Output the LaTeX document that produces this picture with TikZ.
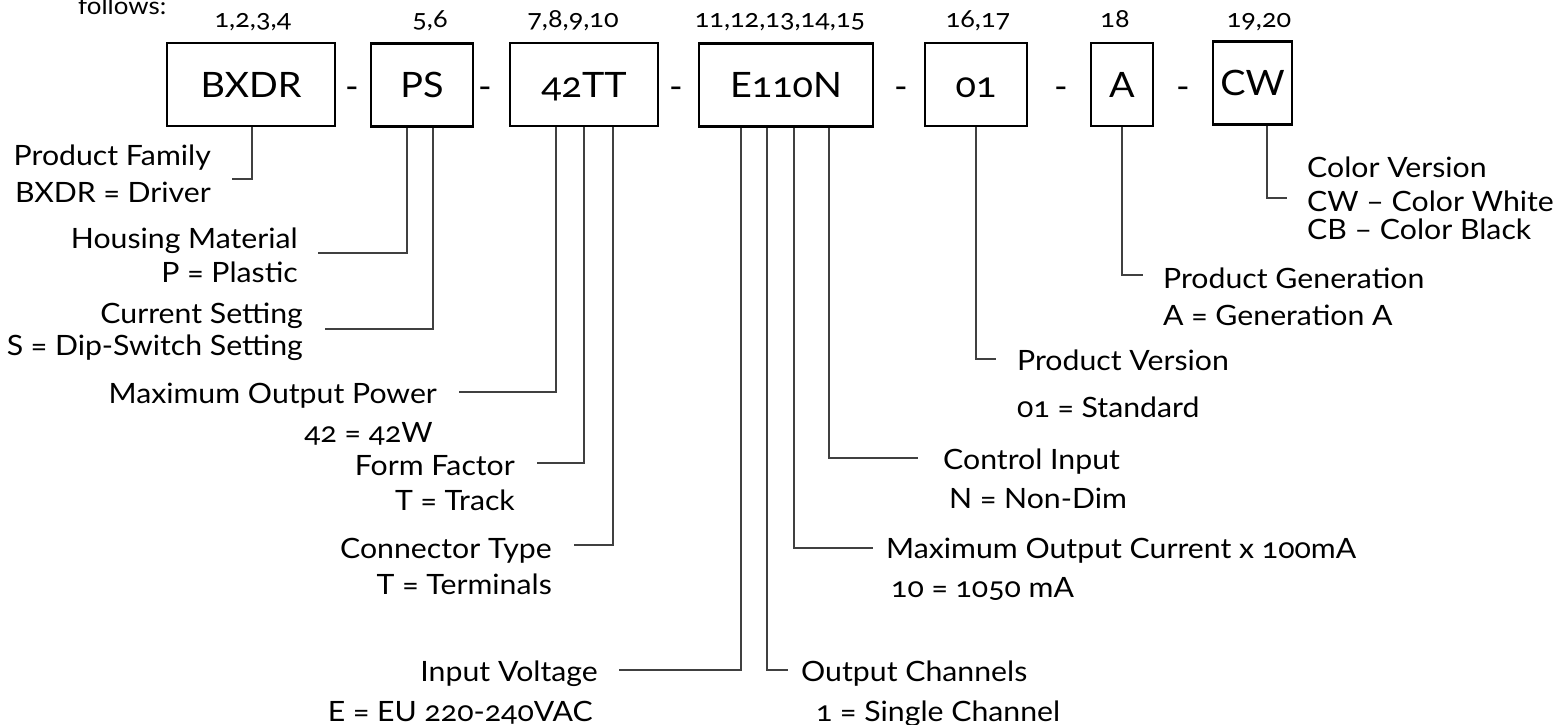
\documentclass[tikz,border=0pt]{standalone}
\usepackage{fontspec}
\setmainfont{Lato}[Numbers=OldStyle, FakeStretch=1.08]
\usetikzlibrary{positioning}

\tikzset{
  codebox/.style={draw, line width=2.6pt, minimum height=83pt, inner sep=0pt,
    font=\fontsize{35}{40}\selectfont, text height=25pt, text depth=0pt},
  digits/.style={font=\fontsize{25}{28}\selectfont, anchor=base, inner sep=0pt},
  sep/.style={font=\fontsize{34}{40}\selectfont, anchor=base, inner sep=0pt},
  lbl/.style={font=\fontsize{28}{32}\selectfont, inner sep=0pt},
  lblr/.style={lbl, anchor=base east},
  lbll/.style={lbl, anchor=base west},
  lead/.style={line width=1.3pt, draw=black!75},
}

\begin{document}
\begin{tikzpicture}[x=1pt, y=-1pt]
\useasboundingbox (0,0) rectangle (1559,725);

\node[lbl, anchor=base west, font=\fontsize{24}{28}\selectfont] (fol) at (78,15) {follows:};

% code boxes
\node[codebox, minimum width=168pt] (bxdr) at (251,84.5) {BXDR};
\node[codebox, minimum width=102pt] (ps) at (422,85) {PS};
\node[codebox, minimum width=148pt] (tt) at (584,84.5) {42TT};
\node[codebox, minimum width=174pt] (en) at (786,85) {E110N};
\node[codebox, minimum width=102pt] (ver) at (976,84.5) {01};
\node[codebox, minimum width=62pt] (gen) at (1122,84.5) {A};
\node[codebox, minimum width=79pt] (col) at (1252.5,83) {CW};

% digit positions
\node[digits] (n1) at (253,28) {1,2,3,4};
\node[digits] (n2) at (430,28) {5,6};
\node[digits] (n3) at (573,28) {7,8,9,10};
\node[digits] (n4) at (780,28) {11,12,13,14,15};
\node[digits] (n5) at (978,28) {16,17};
\node[digits] (n6) at (1115,28) {18};
\node[digits] (n7) at (1259,28) {19,20};

% separators
\foreach \x [count=\i] in {352,485,676,901,1061,1183}
  \node[sep] (s\i) at (\x,99) {-};

% left side labels
\node[lblr] (pf) at (211,165) {Product Family};
\node[lblr] (pfv) at (211,202) {BXDR = Driver};
\node[lblr] (hm) at (298,248) {Housing Material};
\node[lblr] (hmv) at (298,282) {P = Plastic};
\node[lblr] (cs) at (303,323) {Current Setting};
\node[lblr] (csv) at (303,355) {S = Dip-Switch Setting};
\node[lblr] (mp) at (437,403) {Maximum Output Power};
\node[lblr] (mpv) at (433,442) {42 = 42W};
\node[lblr] (ff) at (515,475) {Form Factor};
\node[lblr] (ffv) at (515,510) {T = Track};
\node[lblr] (ct) at (552,558) {Connector Type};
\node[lblr] (ctv) at (552,594) {T = Terminals};
\node[lblr] (iv) at (598,681) {Input Voltage};
\node[lblr] (ivv) at (593,721) {E = EU 220-240VAC};

% right side labels
\node[lbll] (oc) at (801,681) {Output Channels};
\node[lbll] (ocv) at (816,721) {1 = Single Channel};
\node[lbll] (mc) at (886,558) {Maximum Output Current x 100mA};
\node[lbll] (mcv) at (891,597) {10 = 1050 mA};
\node[lbll] (ci) at (943,469) {Control Input};
\node[lbll] (civ) at (949,508) {N = Non-Dim};
\node[lbll] (pv) at (1017,370) {Product Version};
\node[lbll] (pvv) at (1017,417) {01 = Standard};
\node[lbll] (pg) at (1163,288) {Product Generation};
\node[lbll] (pgv) at (1163,325) {A = Generation A};
\node[lbll] (cv) at (1307,177) {Color Version};
\node[lbll] (cvw) at (1307,211) {CW – Color White};
\node[lbll] (cvb) at (1307,239) {CB – Color Black};

% free ends of the leaders
\coordinate (pfam) at (232,179);
\coordinate (hmat) at (318,253);
\coordinate (cset) at (325,329);
\coordinate (mpow) at (459,392);
\coordinate (ffac) at (537,463);
\coordinate (ctyp) at (574,545);
\coordinate (ivol) at (619,670);
\coordinate (ochn) at (788,670);
\coordinate (mcur) at (873,548);
\coordinate (cinp) at (918,458);
\coordinate (pver) at (996,359);
\coordinate (pgen) at (1143,275);
\coordinate (cver) at (1287,198);

% leaders
\foreach \x/\b/\e in {252/bxdr/pfam, 407/ps/hmat, 433/ps/cset,
    556/tt/mpow, 584/tt/ffac, 613/tt/ctyp,
    741/en/ivol, 767/en/ochn, 794/en/mcur, 829/en/cinp,
    976/ver/pver, 1122/gen/pgen, 1267/col/cver}
  \draw[lead] (\x,0 |- \b.south) |- (\e);
\end{tikzpicture}
\end{document}
